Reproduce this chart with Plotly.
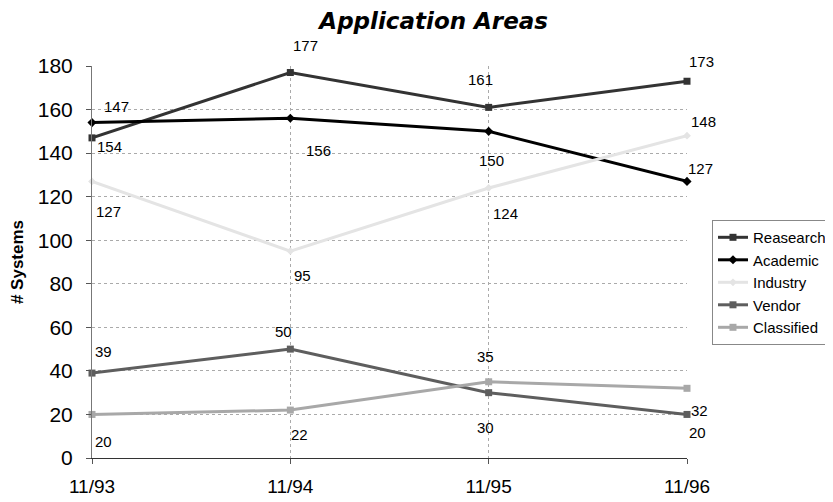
import plotly.graph_objects as go

categories = ["11/93", "11/94", "11/95", "11/96"]
research = [147, 177, 161, 173]
academic = [154, 156, 150, 127]
industry = [127, 95, 124, 148]
vendor = [39, 50, 30, 20]
classified = [20, 22, 35, 32]

series = [
    ("Reasearch", research, "#333333", "square", 7),
    ("Academic", academic, "#000000", "diamond", 7),
    ("Industry", industry, "#e4e4e4", "diamond", 6),
    ("Vendor", vendor, "#5e5e5e", "square", 7),
    ("Classified", classified, "#a8a8a8", "square", 7),
]

# label pixel offsets (dx, dy) per series point, Excel-style placement
offsets = {
    "Reasearch": [(24, -31), (15, -27), (-8, -28), (14, -20)],
    "Academic": [(17, 24), (28, 32), (3, 29), (13, -13)],
    "Industry": [(16, 30), (12, 24), (17, 26), (16, -14)],
    "Vendor": [(11, -22), (-7, -18), (-3, 35), (10, 18)],
    "Classified": [(11, 27), (9, 24), (-3, -25), (12, 22)],
}

FONT = "Liberation Sans, Arial, sans-serif"

fig = go.Figure()
annotations = []
for name, vals, color, sym, size in series:
    fig.add_trace(go.Scatter(
        x=categories, y=vals, name=name, mode="lines+markers",
        line=dict(color=color, width=3),
        marker=dict(symbol=sym, size=size, color=color),
        cliponaxis=False,
    ))
    for i, v in enumerate(vals):
        dx, dy = offsets[name][i]
        annotations.append(dict(
            x=categories[i], y=v, xref="x", yref="y", text=str(v),
            showarrow=False, xshift=dx, yshift=-dy,
            font=dict(family=FONT, size=15, color="#000"),
        ))

fig.update_layout(
    width=825, height=494,
    margin=dict(l=84, r=146, t=58, b=44, autoexpand=False),
    paper_bgcolor="white", plot_bgcolor="white",
    title=dict(text="<b><i>Application Areas</i></b>", x=0.516, xanchor="center",
               y=0.99, yanchor="top", pad=dict(t=0, b=0),
               font=dict(family="DejaVu Sans, Liberation Sans, Arial", size=23, color="#000")),
    font=dict(family=FONT, color="#000"),
    annotations=annotations,
    legend=dict(x=1.042, y=0.607, xanchor="left", yanchor="top",
                bordercolor="#888", borderwidth=1, bgcolor="white",
                font=dict(size=15), tracegroupgap=0, itemwidth=30),
    showlegend=True,
)
fig.update_xaxes(
    type="category", range=[0, 3], showgrid=True, gridcolor="#aaaaaa",
    griddash="dot", gridwidth=1, showline=True, linecolor="#333", linewidth=1,
    ticks="outside", ticklen=5, tickcolor="#555", ticklabelstandoff=6,
    tickfont=dict(size=19), zeroline=False, mirror=False, automargin=False,
)
fig.update_yaxes(
    range=[0, 180], dtick=20, showgrid=True, gridcolor="#aaaaaa", griddash="dot",
    gridwidth=1, showline=True, linecolor="#777", linewidth=1,
    ticks="outside", ticklen=5, tickcolor="#555", ticklabelstandoff=9,
    tickfont=dict(size=21), zeroline=False, automargin=False,
    title=dict(text="<b># Systems</b>", font=dict(size=17), standoff=14),
)
fig.write_html("out.html")
